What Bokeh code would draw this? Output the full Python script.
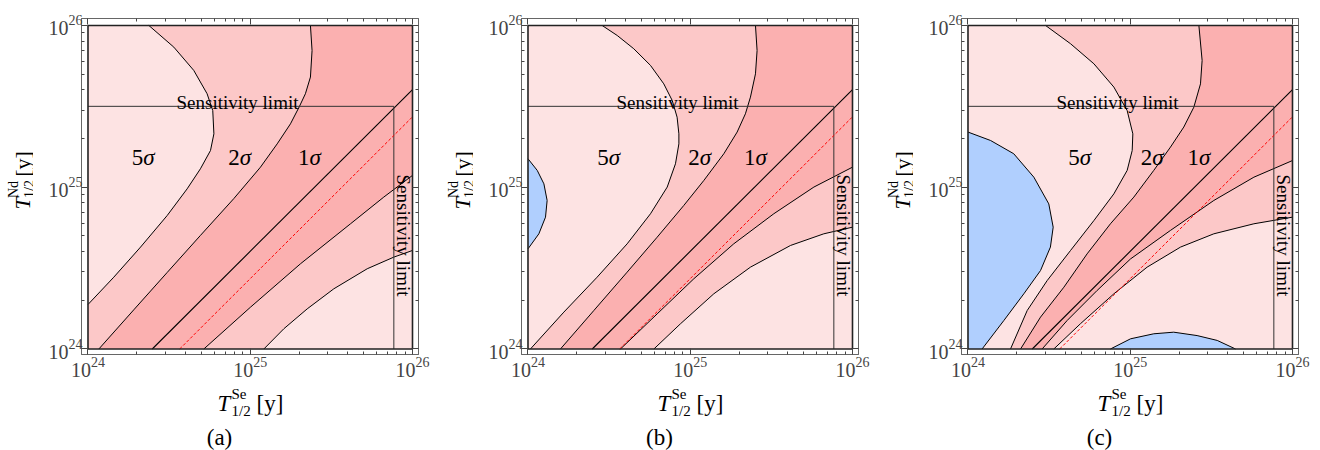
import math
from bokeh.plotting import figure
from bokeh.models import Range1d, LogAxis, FixedTicker, LogTickFormatter, Label, CustomJSTickFormatter
from bokeh.layouts import row, column
from bokeh.embed import file_html
from bokeh.resources import INLINE

# ---------------- data (log10 of half-lives) ----------------
TICK_EXP = [24, 25, 26]
MINOR_MULT = [2, 3, 4, 5, 6, 7, 8, 9]
SENS_SE = 25.885        # vertical "Sensitivity limit"  (T_Se)
SENS_ND = 25.5          # horizontal "Sensitivity limit" (T_Nd)
DIAG_X = [24.396, 26.0]
DIAG_Y = [24.0, 25.604]
RED_X = [24.565, 26.0]
RED_Y = [24.0, 25.435]

# panel (a)
A_5S_X = [24.375, 24.529, 24.652, 24.734, 24.769, 24.776, 24.755, 24.693, 24.611, 24.488, 24.324, 24.159, 24.0]
A_5S_Y = [26.0, 25.866, 25.722, 25.578, 25.474, 25.330, 25.227, 25.114, 24.990, 24.825, 24.630, 24.444, 24.275]
A_2S_X = [25.371, 25.381, 25.371, 25.340, 25.303, 25.248, 25.166, 25.063, 24.899, 24.693, 24.488, 24.282, 24.067]
A_2S_Y = [26.0, 25.845, 25.681, 25.578, 25.499, 25.392, 25.268, 25.124, 24.930, 24.702, 24.473, 24.242, 24.0]
A_1L_X = [24.714, 25.002, 25.310, 25.618, 25.823, 26.0]
A_1L_Y = [24.0, 24.259, 24.527, 24.774, 24.939, 25.073]
A_2L_X = [25.084, 25.207, 25.351, 25.515, 25.721, 25.885, 26.0]
A_2L_Y = [24.0, 24.125, 24.248, 24.372, 24.496, 24.568, 24.609]

# panel (b)
B_BL_X = [24.0, 24.057, 24.098, 24.118, 24.108, 24.067, 24.0]
B_BL_Y = [25.176, 25.104, 25.021, 24.918, 24.815, 24.712, 24.619]
B_5S_X = [24.457, 24.550, 24.652, 24.755, 24.837, 24.889, 24.919, 24.930, 24.930, 24.909, 24.858, 24.755, 24.611, 24.426, 24.221, 24.015]
B_5S_Y = [26.0, 25.938, 25.856, 25.753, 25.639, 25.536, 25.433, 25.330, 25.268, 25.145, 25.001, 24.836, 24.650, 24.444, 24.228, 24.0]
B_2S_X = [25.402, 25.412, 25.402, 25.371, 25.340, 25.289, 25.207, 25.084, 24.960, 24.796, 24.611, 24.406, 24.200]
B_2S_Y = [26.0, 25.845, 25.701, 25.557, 25.454, 25.341, 25.207, 25.042, 24.887, 24.691, 24.475, 24.238, 24.0]
B_1L_X = [24.570, 24.796, 25.022, 25.268, 25.515, 25.762, 26.0]
B_1L_Y = [24.0, 24.217, 24.434, 24.650, 24.836, 25.001, 25.124]
B_2L_X = [24.776, 24.940, 25.145, 25.371, 25.618, 25.823, 26.0]
B_2L_Y = [24.0, 24.156, 24.341, 24.506, 24.640, 24.712, 24.753]

# panel (c)
C_BL_X = [24.0, 24.139, 24.282, 24.406, 24.498, 24.525, 24.508, 24.447, 24.344, 24.221, 24.087]
C_BL_Y = [25.341, 25.289, 25.207, 25.062, 24.897, 24.753, 24.630, 24.485, 24.341, 24.176, 24.0]
C_BB_X = [24.878, 25.002, 25.145, 25.268, 25.412, 25.536, 25.649]
C_BB_Y = [24.0, 24.063, 24.094, 24.104, 24.083, 24.053, 24.0]
C_5S_X = [24.478, 24.632, 24.776, 24.899, 24.981, 25.016, 25.012, 24.981, 24.899, 24.776, 24.632, 24.488, 24.365, 24.262]
C_5S_Y = [26.0, 25.887, 25.763, 25.619, 25.474, 25.330, 25.227, 25.104, 24.959, 24.794, 24.609, 24.423, 24.238, 24.0]
C_2S_X = [25.423, 25.443, 25.433, 25.392, 25.330, 25.248, 25.145, 25.022, 24.878, 24.734, 24.591, 24.447, 24.324]
C_2S_Y = [26.0, 25.784, 25.639, 25.495, 25.372, 25.248, 25.104, 24.939, 24.774, 24.588, 24.382, 24.197, 24.0]
C_1L_X = [24.457, 24.611, 24.796, 25.002, 25.248, 25.515, 25.762, 26.0]
C_1L_Y = [24.0, 24.176, 24.362, 24.557, 24.733, 24.918, 25.062, 25.165]
C_2L_X = [24.529, 24.693, 24.899, 25.104, 25.310, 25.515, 25.762, 26.0]
C_2L_Y = [24.0, 24.156, 24.341, 24.506, 24.630, 24.712, 24.774, 24.815]

SIGMA_LABELS = ["5", "2", "1"]
A_SIG_X = [24.340, 24.936, 25.365]
B_SIG_X = [24.498, 25.059, 25.402]
C_SIG_X = [24.689, 25.135, 25.423]
SIG_Y = 25.186
CAPTIONS = ["(a)", "(b)", "(c)"]
X_LABEL = ["T", "Se", "1/2", "[y]"]
Y_LABEL = ["T", "Nd", "1/2", "[y]"]

# ---------------- style / layout ----------------
SERIF = "Liberation Serif"
LIGHT = "#fde3e3"
MED = "#fcc8c8"
DARK = "#fbb0b0"
BLUE = "#b0cffe"
X0, X1 = 23.96, 26.037
Y0, Y1 = 23.966, 26.043
FW, FH = 337, 336
FL, FT = 81, 18          # frame left / top within a 440-px panel
YLW = 33                 # width of the strip holding the y label
TOPH = 380               # height of the plot row
PANEL_W = 440


def P(v):
    return [10.0 ** t for t in v]


def pix(xp, yp):
    """panel-local pixel -> data coordinates (for placing text only)"""
    return (10 ** (X0 + (xp - FL) / FW * (X1 - X0)),
            10 ** (Y1 - (yp - FT) / FH * (Y1 - Y0)))


def txt(p, xp, yp, text, size, italic=False, angle=0.0, align="left", baseline="alphabetic"):
    x, y = pix(xp, yp)
    p.add_layout(Label(x=x, y=y, text=text, text_font=SERIF, text_font_size=f"{size}px",
                       text_font_style="italic" if italic else "normal", angle=angle,
                       text_align=align, text_baseline=baseline, text_color="black"))


def ptxt(f, x, y, text, size, italic=False, angle=0.0, align="left", baseline="alphabetic"):
    """text on a helper canvas whose data units are pixels (y downward)"""
    f.add_layout(Label(x=x, y=y, text=text, text_font=SERIF, text_font_size=f"{size}px",
                       text_font_style="italic" if italic else "normal", angle=angle,
                       text_align=align, text_baseline=baseline, text_color="black"))


def text_canvas(w, h):
    f = figure(width=w, height=h, x_range=Range1d(0, w), y_range=Range1d(h, 0),
               x_axis_type=None, y_axis_type=None, min_border=0, output_backend="svg",
               toolbar_location=None, outline_line_color=None,
               background_fill_color="white", border_fill_color="white")
    f.grid.visible = False
    return f


def ticker():
    lo, hi = TICK_EXP[0], TICK_EXP[-1]
    minors = [m * 10.0 ** e for e in range(lo, hi) for m in MINOR_MULT]
    return FixedTicker(ticks=P(TICK_EXP), minor_ticks=minors)


def style_axis(ax, labels=True, standoff=2):
    ax.ticker = ticker()
    if labels:
        ax.formatter = LogTickFormatter()
        ax.major_label_text_font = SERIF
        ax.major_label_text_font_size = "20px"
        ax.major_label_standoff = standoff
    else:
        ax.formatter = CustomJSTickFormatter(code="return ' ';")
        ax.major_label_text_font_size = "2px"
        ax.major_label_text_alpha = 0.0
        ax.major_label_standoff = 0
    ax.major_tick_in = 6
    ax.major_tick_out = 0
    ax.minor_tick_in = 3
    ax.minor_tick_out = 0
    ax.axis_line_color = "#666666"
    ax.major_tick_line_color = "#444444"
    ax.minor_tick_line_color = "#444444"


def closed_region(curve_x, curve_y, tail):
    xs = list(curve_x) + [t[0] for t in tail]
    ys = list(curve_y) + [t[1] for t in tail]
    return P(xs), P(ys)


def panel(c5x, c5y, c2x, c2y, l1x, l1y, l2x, l2y, sigx, blues, corner_5s):
    right_border = PANEL_W - FL - FW
    p = figure(x_axis_type="log", y_axis_type="log",
               x_range=Range1d(10 ** X0, 10 ** X1), y_range=Range1d(10 ** Y0, 10 ** Y1),
               width=PANEL_W - YLW, height=TOPH,
               min_border_left=FL - YLW, min_border_right=right_border,
               min_border_top=FT, min_border_bottom=TOPH - FT - FH, output_backend="svg",
               toolbar_location=None, background_fill_color="white", border_fill_color="white",
               outline_line_color="#666666")
    p.grid.visible = False
    style_axis(p.xaxis[0], standoff=2)
    style_axis(p.yaxis[0], standoff=-1)
    top = LogAxis()
    style_axis(top, labels=False)
    p.add_layout(top, "above")
    right = LogAxis()
    style_axis(right, labels=False)
    p.add_layout(right, "right")

    lo, hi = TICK_EXP[0], TICK_EXP[-1]
    p.patch(P([lo, hi, hi, lo]), P([lo, lo, hi, hi]), fill_color=LIGHT, line_color=None)
    tail = [(lo, lo)] if corner_5s else []
    tail += list(zip(l2x, l2y)) + [(hi, hi)]
    xs, ys = closed_region(c5x, c5y, tail)
    p.patch(xs, ys, fill_color=MED, line_color=None)
    xs, ys = closed_region(c2x, c2y, list(zip(l1x, l1y)) + [(hi, hi)])
    p.patch(xs, ys, fill_color=DARK, line_color=None)
    for bx, by, extra in blues:
        xs, ys = closed_region(bx, by, extra)
        p.patch(xs, ys, fill_color=BLUE, line_color=None)

    for cx, cy in [(c5x, c5y), (c2x, c2y), (l1x, l1y), (l2x, l2y)] + [(b[0], b[1]) for b in blues]:
        p.line(P(cx), P(cy), line_color="black", line_width=1.0)
    p.line(P(DIAG_X), P(DIAG_Y), line_color="black", line_width=1.1)
    p.line(P([lo, SENS_SE, SENS_SE]), P([SENS_ND, SENS_ND, lo]), line_color="#333333", line_width=1.0)
    p.line(P(RED_X), P(RED_Y), line_color="#ff0000", line_width=1.0, line_dash="3 2")
    p.line(P([lo, hi, hi, lo, lo]), P([lo, lo, hi, hi, lo]), line_color="#222222", line_width=1.6)

    txt(p, 237, 102, "Sensitivity limit", 19, align="center")
    txt(p, 403, 235, "Sensitivity limit", 19, angle=-math.pi / 2, align="center", baseline="middle")
    for lab, sx in zip(SIGMA_LABELS, sigx):
        p.add_layout(Label(x=10 ** sx, y=10 ** SIG_Y, text=lab, text_font=SERIF, text_font_size="23px",
                           text_align="right", text_baseline="middle", text_color="black"))
        p.add_layout(Label(x=10 ** sx, y=10 ** SIG_Y, text="σ", text_font=SERIF, text_font_size="23px",
                           text_font_style="italic", text_align="left", text_baseline="middle",
                           text_color="black"))
    return p


def ylabel_strip():
    f = text_canvas(YLW, TOPH)
    ys0 = 216
    ptxt(f, 22, ys0, Y_LABEL[0], 22, italic=True, angle=math.pi / 2)
    ptxt(f, 13, ys0 - 13, Y_LABEL[1], 14, angle=math.pi / 2)
    ptxt(f, 29, ys0 - 13, Y_LABEL[2], 14, angle=math.pi / 2)
    ptxt(f, 22, ys0 - 37, Y_LABEL[3], 22, angle=math.pi / 2)
    return f


pa = panel(A_5S_X, A_5S_Y, A_2S_X, A_2S_Y, A_1L_X, A_1L_Y, A_2L_X, A_2L_Y, A_SIG_X, [], True)
pb = panel(B_5S_X, B_5S_Y, B_2S_X, B_2S_Y, B_1L_X, B_1L_Y, B_2L_X, B_2L_Y, B_SIG_X,
           [(B_BL_X, B_BL_Y, [])], False)
pc = panel(C_5S_X, C_5S_Y, C_2S_X, C_2S_Y, C_1L_X, C_1L_Y, C_2L_X, C_2L_Y, C_SIG_X,
           [(C_BL_X, C_BL_Y, [(24.0, 24.0)]), (C_BB_X, C_BB_Y, [])], False)

# bottom strip: x-axis labels and sub-captions
bottom = text_canvas(3 * PANEL_W, 450 - TOPH)
for i in range(3):
    ox = i * PANEL_W
    oy = TOPH
    ptxt(bottom, ox + 217, 403 - oy, X_LABEL[0], 23, italic=True)
    ptxt(bottom, ox + 231, 393 - oy, X_LABEL[1], 15)
    ptxt(bottom, ox + 231, 410 - oy, X_LABEL[2], 15)
    ptxt(bottom, ox + 256, 403 - oy, X_LABEL[3], 23)
    ptxt(bottom, ox + 219, 437 - oy, CAPTIONS[i], 23, align="center")

layout = column(row(ylabel_strip(), pa, ylabel_strip(), pb, ylabel_strip(), pc), bottom)
open("out.html", "w").write(file_html(layout, INLINE))
